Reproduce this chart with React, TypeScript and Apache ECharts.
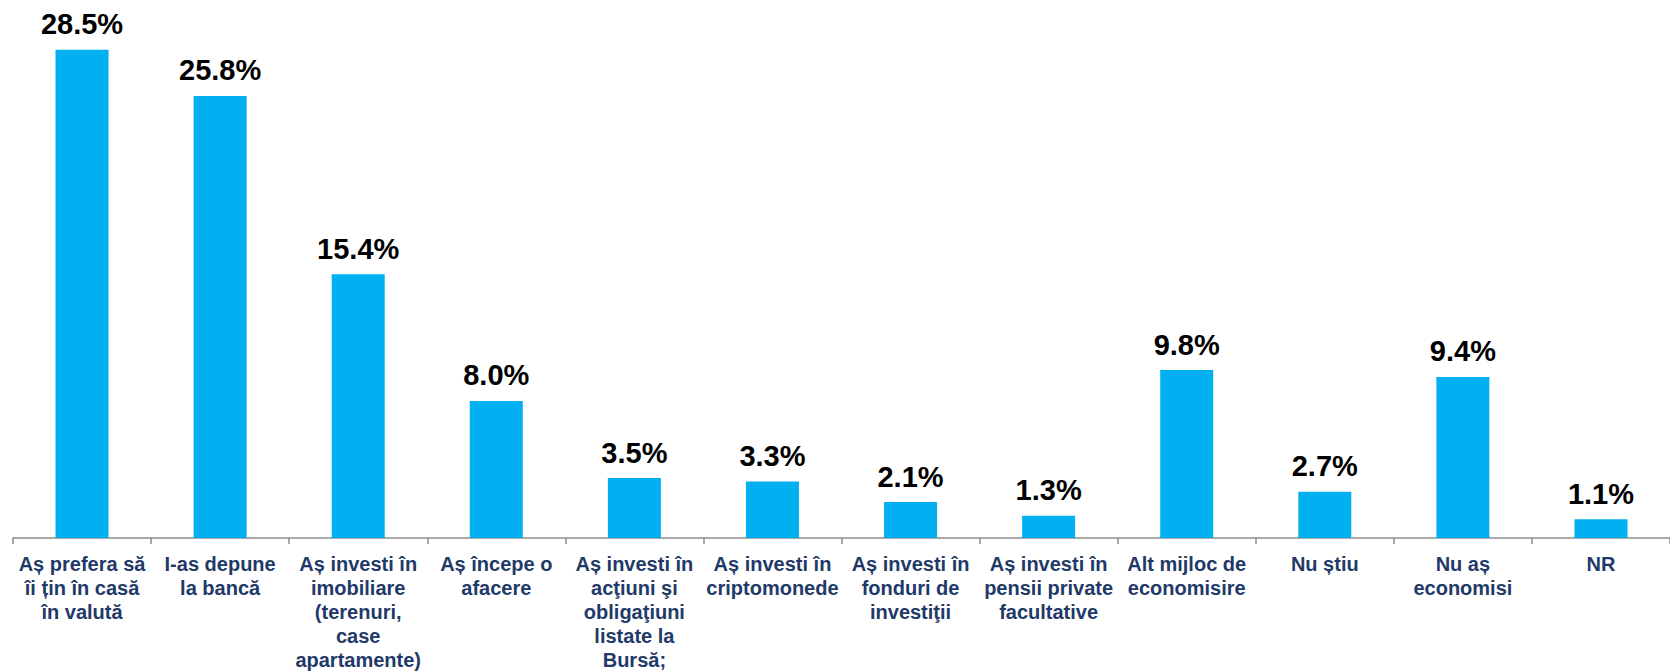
import React, { useEffect, useRef } from "react";
import * as echarts from "echarts";

const categories: string[] = [
  "Aș prefera să\nîi țin în casă\nîn valută",
  "I-as depune\nla bancă",
  "Aș investi în\nimobiliare\n(terenuri,\ncase\napartamente)",
  "Aș începe o\nafacere",
  "Aș investi în\nacţiuni şi\nobligaţiuni\nlistate la\nBursă;",
  "Aș investi în\ncriptomonede",
  "Aș investi în\nfonduri de\ninvestiţii",
  "Aș investi în\npensii private\nfacultative",
  "Alt mijloc de\neconomisire",
  "Nu știu",
  "Nu aș\neconomisi",
  "NR",
];

const values: number[] = [28.5, 25.8, 15.4, 8.0, 3.5, 3.3, 2.1, 1.3, 9.8, 2.7, 9.4, 1.1];

export default function App() {
  const ref = useRef<HTMLDivElement>(null);

  useEffect(() => {
    if (!ref.current) return;
    const chart = echarts.init(ref.current, undefined, { renderer: "svg" });
    chart.setOption({
      animation: false,
      backgroundColor: "#ffffff",
      grid: { left: 13, right: 0, top: 24, bottom: 134, containLabel: false },
      xAxis: {
        type: "category",
        data: categories,
        axisLine: { show: true, lineStyle: { color: "#8c8c8c", width: 1.5 } },
        axisTick: { show: true, alignWithLabel: false, length: 6, lineStyle: { color: "#8c8c8c", width: 1.5 } },
        axisLabel: {
          interval: 0,
          margin: 14,
          color: "#1f3a68",
          fontFamily: "Liberation Sans, Arial, sans-serif",
          fontWeight: "bold",
          fontSize: 20,
          lineHeight: 24,
          align: "center",
          verticalAlign: "top",
        },
      },
      yAxis: {
        type: "value",
        min: 0,
        max: 30,
        show: false,
        splitLine: { show: false },
      },
      series: [
        {
          type: "bar",
          data: values,
          barWidth: 53,
          itemStyle: { color: "#00b0f0" },
          label: {
            show: true,
            position: "top",
            distance: 11,
            color: "#000000",
            fontFamily: "Liberation Sans, Arial, sans-serif",
            fontWeight: "bold",
            fontSize: 29,
            formatter: (p: any) => Number(p.value).toFixed(1) + "%",
          },
        },
      ],
    });
    return () => chart.dispose();
  }, []);

  return (
    <div
      ref={ref}
      style={{ position: "absolute", left: 0, top: 0, width: 1670, height: 672, background: "#fff" }}
    />
  );
}
